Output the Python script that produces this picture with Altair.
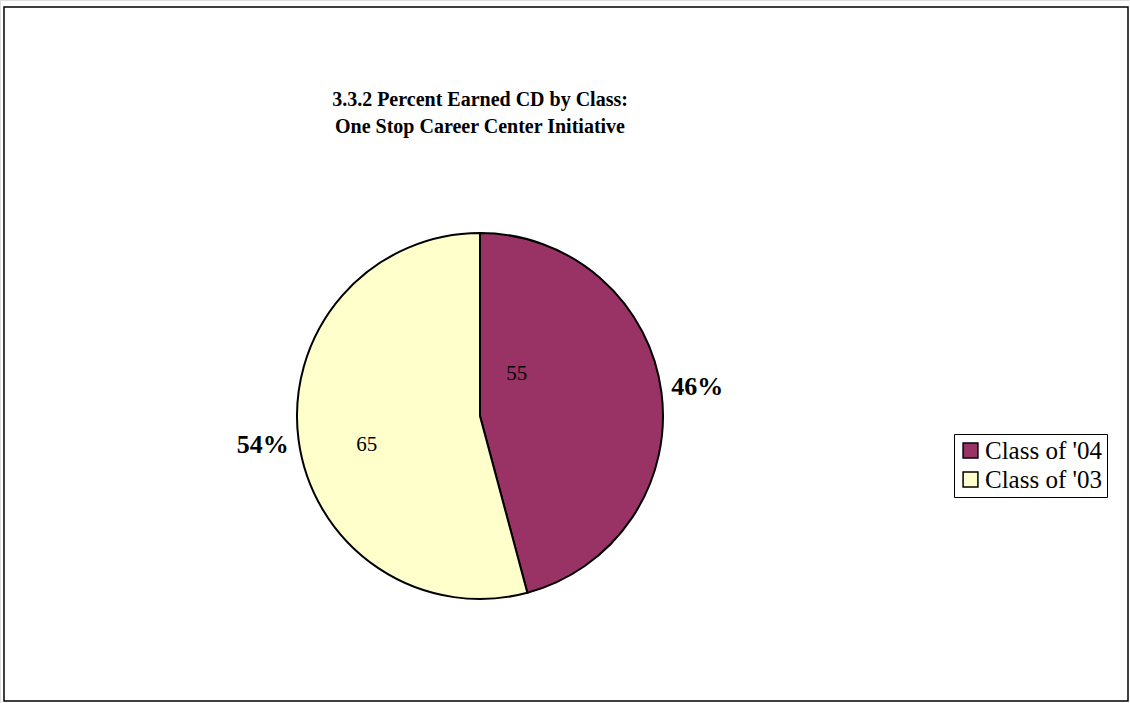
import altair as alt
import pandas as pd

classes = ["Class of '04", "Class of '03"]
values = [55, 65]
percents = ["46%", "54%"]
colors = ["#993366", "#FFFFCC"]
title_lines = ["3.3.2 Percent Earned CD by Class:", "One Stop Career Center Initiative"]

df = pd.DataFrame({
    "cls": classes,
    "value": values,
    "pct": percents,
    "order": [0, 1],
})

FONT = "Liberation Serif"
CX, CY, R = 480, 416, 183

base = alt.Chart(df).encode(
    theta=alt.Theta("value:Q", stack=True),
    order=alt.Order("order:Q", sort="ascending"),
    x=alt.value(CX),
    y=alt.value(CY),
)

pie = base.mark_arc(outerRadius=R, stroke="black", strokeWidth=2).encode(
    color=alt.Color(
        "cls:N",
        scale=alt.Scale(domain=classes, range=colors),
        sort=classes,
        legend=alt.Legend(
            title=None,
            orient="none",
            legendX=954,
            legendY=434,
            symbolType="square",
            symbolSize=220,
            symbolStrokeColor="black",
            symbolStrokeWidth=1.5,
            labelFont=FONT,
            labelFontSize=25,
            labelColor="black",
            labelLimit=400,
            labelOffset=2,
            strokeColor="black",
            fillColor="white",
            padding=4,
            rowPadding=3,
        ),
    )
)

outer = base.mark_text(radius=219, font=FONT, fontSize=26, fontWeight="bold", color="black").encode(
    text="pct:N"
)

inner04 = base.transform_calculate(
    lab="datum.cls === \"Class of '04\" ? '' + datum.value : ''"
).mark_text(radius=56, thetaOffset=-0.724, font=FONT, fontSize=21, color="black").encode(text="lab:N")

inner03 = base.transform_calculate(
    lab="datum.cls === \"Class of '03\" ? '' + datum.value : ''"
).mark_text(radius=117, thetaOffset=-0.12, font=FONT, fontSize=21, color="black").encode(text="lab:N")

border = alt.Chart(pd.DataFrame({"a": [0]})).mark_rect(
    fill="white", stroke="black", strokeWidth=1.5
).encode(x=alt.value(4), x2=alt.value(1128), y=alt.value(7), y2=alt.value(701))

t1 = alt.Chart(pd.DataFrame({"a": [0]})).mark_text(
    font=FONT, fontSize=20, fontWeight="bold", color="black"
).encode(x=alt.value(480), y=alt.value(100), text=alt.value(title_lines[0]))
t2 = alt.Chart(pd.DataFrame({"a": [0]})).mark_text(
    font=FONT, fontSize=20, fontWeight="bold", color="black"
).encode(x=alt.value(480), y=alt.value(127), text=alt.value(title_lines[1]))

chart = alt.layer(border, pie, outer, inner04, inner03, t1, t2).properties(
    width=1130, height=703, padding=0, autosize=alt.AutoSizeParams(type="none")
).configure_view(stroke=None).configure(background="white")

chart.save("out.html", embed_options={"renderer": "svg", "actions": False})
